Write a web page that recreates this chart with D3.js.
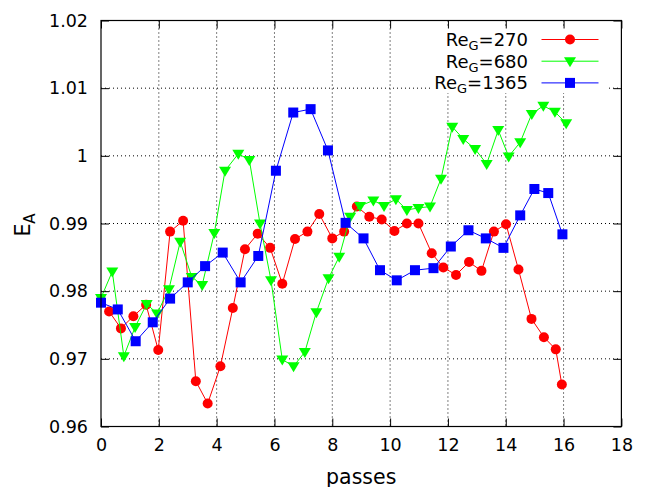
<!DOCTYPE html>
<html>
<head>
<meta charset="utf-8">
<script src="https://cdn.jsdelivr.net/npm/d3@7"></script>
<style>
  body { margin: 0; background: #fff; }
  svg { font-family: "DejaVu Sans", sans-serif; }
</style>
</head>
<body>
<svg id="svg"></svg>
<script>
var width = 649, height = 487;

// x ticks / y ticks
var xTicks = [0, 2, 4, 6, 8, 10, 12, 14, 16, 18];
var yTicks = [0.96, 0.97, 0.98, 0.99, 1.0, 1.01, 1.02];
var yTickLabels = ["0.96", "0.97", "0.98", "0.99", "1", "1.01", "1.02"];

// Re_G = 270 (red, circles)
var passes270 = [0.28, 0.69, 1.12, 1.56, 1.98, 2.39, 2.84, 3.28, 3.69, 4.13, 4.56, 4.98, 5.42, 5.85, 6.27,
  6.71, 7.14, 7.55, 8.0, 8.41, 8.85, 9.28, 9.71, 10.15, 10.58, 10.98, 11.44, 11.84, 12.28, 12.73,
  13.16, 13.59, 14.01, 14.44, 14.89, 15.32, 15.73, 15.94];
var ea270 = [0.9770, 0.9745, 0.9763, 0.9780, 0.9713, 0.9888, 0.9904, 0.9667, 0.9634, 0.9689, 0.9775,
  0.9862, 0.9885, 0.9864, 0.9811, 0.9877, 0.9888, 0.9914, 0.9878, 0.9888, 0.9925, 0.9910, 0.9906,
  0.9889, 0.9900, 0.9900, 0.9856, 0.9835, 0.9824, 0.9843, 0.9830, 0.9888, 0.9899, 0.9832, 0.9759,
  0.9732, 0.9714, 0.9662];

// Re_G = 680 (green, down triangles)
var passes680 = [0, 0.39, 0.79, 1.18, 1.58, 1.94, 2.35, 2.74, 3.14, 3.5, 3.92, 4.29, 4.75, 5.13, 5.5,
  5.88, 6.27, 6.66, 7.05, 7.45, 7.87, 8.24, 8.62, 8.96, 9.42, 9.79, 10.2, 10.58, 10.98, 11.38,
  11.76, 12.15, 12.53, 12.94, 13.34, 13.74, 14.1, 14.5, 14.9, 15.3, 15.7, 16.09];
var ea680 = [0.9790, 0.9829, 0.9704, 0.9747, 0.9781, 0.9767, 0.9803, 0.9873, 0.9821, 0.9809, 0.9886,
  0.9978, 1.0003, 0.9994, 0.9900, 0.9816, 0.9699, 0.9689, 0.9710, 0.9769, 0.9819, 0.9851, 0.9910,
  0.9926, 0.9934, 0.9926, 0.9936, 0.9920, 0.9923, 0.9925, 0.9966, 1.0043, 1.0025, 1.0010, 0.9988,
  1.0038, 0.9999, 1.0020, 1.0062, 1.0074, 1.0065, 1.0048];

// Re_G = 1365 (blue, squares)
var passes1365 = [0, 0.58, 1.2, 1.79, 2.39, 3.0, 3.6, 4.21, 4.83, 5.44, 6.05, 6.65, 7.25, 7.85, 8.46,
  9.08, 9.65, 10.23, 10.86, 11.5, 12.1, 12.71, 13.31, 13.92, 14.5, 14.99, 15.47, 15.96];
var ea1365 = [0.9783, 0.9773, 0.9726, 0.9754, 0.9789, 0.9813, 0.9837, 0.9857, 0.9813, 0.9852, 0.9978,
  1.0064, 1.0069, 1.0008, 0.9901, 0.9878, 0.9831, 0.9816, 0.9831, 0.9834, 0.9866, 0.9890, 0.9878,
  0.9864, 0.9912, 0.9951, 0.9945, 0.9884];

var seriesNames = ["270", "680", "1365"];
var seriesColors = ["#ff0000", "#00ff00", "#0000ff"];
var seriesShapes = ["circle", "triangle", "square"];

var plot = { left: 101, right: 621.4, top: 20.5, bottom: 426.5 };

var x = d3.scaleLinear().domain([0, 18]).range([plot.left, plot.right]);
var y = d3.scaleLinear().domain([0.96, 1.02]).range([plot.bottom, plot.top]);

var svg = d3.select("#svg").attr("width", width).attr("height", height);

// grid
var grid = svg.append("g").attr("class", "grid");
grid.selectAll(".gx").data(xTicks.slice(1, -1)).enter().append("line")
    .attr("x1", function(d){ return x(d); }).attr("x2", function(d){ return x(d); })
    .attr("y1", plot.top).attr("y2", plot.bottom)
    .attr("stroke", "#000").attr("stroke-width", 1).attr("stroke-dasharray", "1,3");
grid.selectAll(".gy").data(yTicks.slice(1, -1)).enter().append("line")
    .attr("y1", function(d){ return y(d); }).attr("y2", function(d){ return y(d); })
    .attr("x1", plot.left).attr("x2", plot.right)
    .attr("stroke", "#000").attr("stroke-width", 1).attr("stroke-dasharray", "1,3");

function drawMarker(sel, shape, color){
    if(shape == "circle"){
        sel.append("circle").attr("r", 5).attr("fill", color);
    } else if(shape == "square"){
        sel.append("rect").attr("x", -5).attr("y", -5).attr("width", 10).attr("height", 10).attr("fill", color);
    } else {
        sel.append("path").attr("d", "M-6,-4L6,-4L0,6Z").attr("fill", color);
    }
}

var allX = [passes270, passes680, passes1365];
var allY = [ea270, ea680, ea1365];

// draw series
allX.forEach(function(xs, s){
    var pts = xs.map(function(v, i){ return [v, allY[s][i]]; });
    var line = d3.line().x(function(d){ return x(d[0]); }).y(function(d){ return y(d[1]); });
    var g = svg.append("g");
    g.append("path").attr("d", line(pts)).attr("fill", "none")
        .attr("stroke", seriesColors[s]).attr("stroke-width", 1);
    pts.forEach(function(p){
        var m = g.append("g").attr("transform", "translate(" + x(p[0]) + "," + y(p[1]) + ")");
        drawMarker(m, seriesShapes[s], seriesColors[s]);
    });
});

// legend (opaque key)
var legend = svg.append("g");
legend.append("rect").attr("x", 432).attr("y", 27).attr("width", 176).attr("height", 66).attr("fill", "#fff");
seriesNames.forEach(function(name, i){
    var ly = 39.5 + i * 21.7;
    var t = legend.append("text").attr("x", 528).attr("y", ly + 6.5)
        .attr("text-anchor", "end").attr("font-size", 18).attr("fill", "#000");
    t.append("tspan").text("Re");
    t.append("tspan").attr("font-size", 13).attr("dy", 4).text("G");
    t.append("tspan").attr("dy", -4).text("=" + name);
    legend.append("line").attr("x1", 541.5).attr("x2", 598.5).attr("y1", ly).attr("y2", ly)
        .attr("stroke", seriesColors[i]).attr("stroke-width", 1);
    var m = legend.append("g").attr("transform", "translate(570," + ly + ")");
    drawMarker(m, seriesShapes[i], seriesColors[i]);
});

// axes with inward ticks
var tickLen = 8;
svg.append("g").attr("transform", "translate(0," + plot.bottom + ")")
    .call(d3.axisBottom(x).tickValues(xTicks).tickSize(-tickLen).tickPadding(12))
    .call(function(g){ g.select(".domain").remove(); });
svg.append("g").attr("transform", "translate(0," + plot.top + ")")
    .call(d3.axisTop(x).tickValues(xTicks).tickSize(-tickLen).tickFormat(""))
    .call(function(g){ g.select(".domain").remove(); });
svg.append("g").attr("transform", "translate(" + plot.left + ",0)")
    .call(d3.axisLeft(y).tickValues(yTicks).tickSize(-tickLen).tickPadding(13)
        .tickFormat(function(d, i){ return yTickLabels[i]; }))
    .call(function(g){ g.select(".domain").remove(); });
svg.append("g").attr("transform", "translate(" + plot.right + ",0)")
    .call(d3.axisRight(y).tickValues(yTicks).tickSize(-tickLen).tickFormat(""))
    .call(function(g){ g.select(".domain").remove(); });

svg.selectAll(".tick line").attr("stroke", "#000");
svg.selectAll(".tick text").attr("font-size", 17.5).attr("fill", "#000")
    .attr("font-family", "DejaVu Sans, sans-serif");

// frame
svg.append("rect").attr("x", plot.left).attr("y", plot.top)
    .attr("width", plot.right - plot.left).attr("height", plot.bottom - plot.top)
    .attr("fill", "none").attr("stroke", "#000").attr("stroke-width", 1.2);

// axis titles
svg.append("text").attr("x", (plot.left + plot.right) / 2).attr("y", 484)
    .attr("text-anchor", "middle").attr("font-size", 20.5).text("passes");
var yl = svg.append("text").attr("transform", "translate(30,225) rotate(-90)")
    .attr("text-anchor", "middle").attr("font-size", 20.5);
yl.append("tspan").text("E");
yl.append("tspan").attr("font-size", 15).attr("dy", 5).text("A");
</script>
</body>
</html>
